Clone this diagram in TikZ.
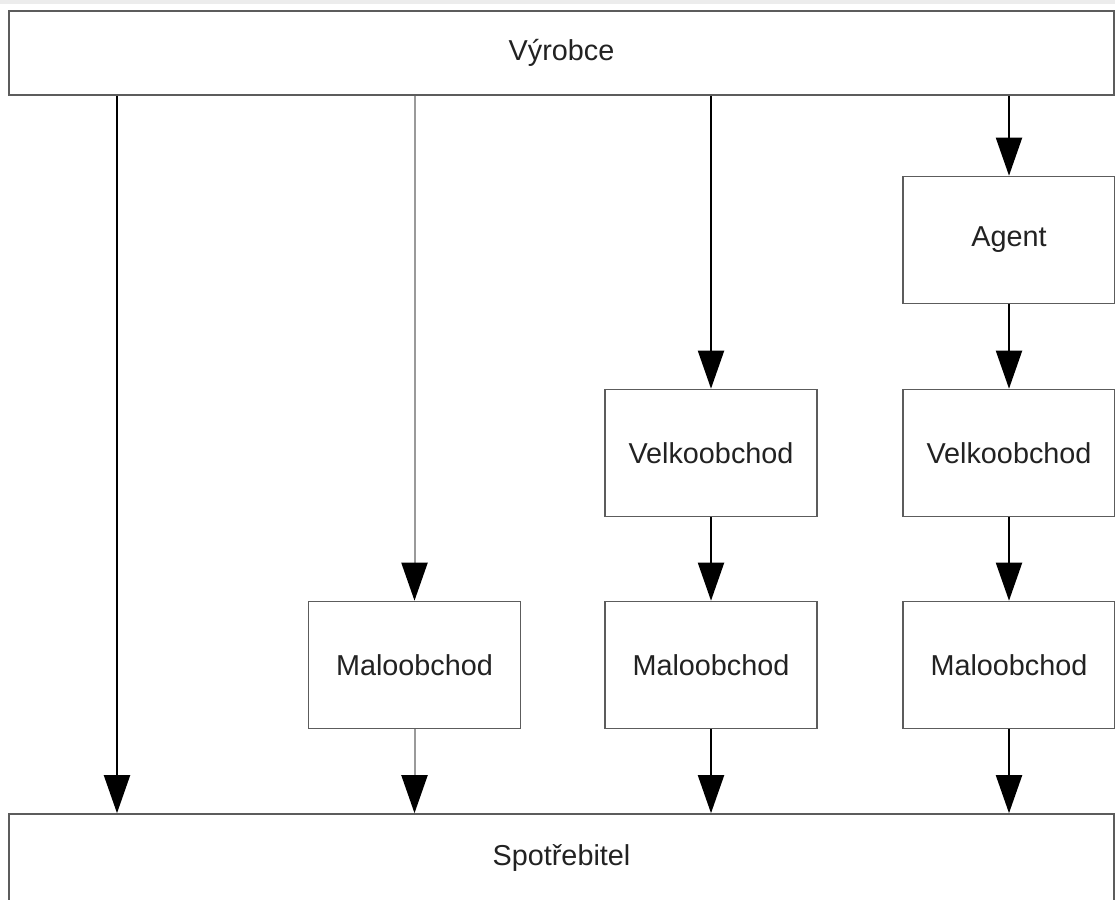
\documentclass[tikz,border=0pt]{standalone}
\usepackage{fontspec}
\setmainfont{Liberation Sans}
\usetikzlibrary{arrows.meta}
\definecolor{edgegray}{HTML}{5C5C5C}
\definecolor{paleline}{HTML}{9A9A9A}
\definecolor{inkdark}{HTML}{222222}
\definecolor{topband}{HTML}{ECECEC}
\begin{document}
\begin{tikzpicture}[x=1pt,y=-1pt,
  box/.style={draw=edgegray,line width=1.6pt,fill=white,rectangle,inner sep=0pt,
    text=inkdark,font=\fontsize{28.8}{34}\selectfont},
  unit/.style={box,minimum width=212pt,minimum height=127pt},
  band/.style={box,minimum width=1105pt},
  flow/.style={draw=black,line width=2pt,-{Triangle[width=26pt,length=38pt,color=black]}},
  paleflow/.style={flow,draw=paleline}]
  \useasboundingbox (0,0) rectangle (1115,899);
  \clip (0,0) rectangle (1115,899);
  \fill[topband] (0,0) rectangle (1115,4);

  % column axes
  \coordinate (c1) at (117,0);
  \coordinate (c2) at (415,0);
  \coordinate (c3) at (711,0);
  \coordinate (c4) at (1009,0);

  % producer and consumer bands
  \node[band,minimum height=84pt] (vyr) at (561.5,53) {Výrobce};
  \node[band,minimum height=88pt] (spo) at (561.5,858) {Spotřebitel};

  % intermediaries
  \node[unit] (agent) at (1009,240) {Agent};
  \node[unit] (velk3) at (711,453) {Velkoobchod};
  \node[unit] (velk4) at (1009,453) {Velkoobchod};
  \node[unit] (malo2) at (414.5,665) {Maloobchod};
  \node[unit] (malo3) at (711,665) {Maloobchod};
  \node[unit] (malo4) at (1009,665) {Maloobchod};

  % direct channel
  \draw[flow] (vyr.south -| c1) -- (spo.north -| c1);
  % one-level channel
  \draw[paleflow] (vyr.south -| malo2) -- (malo2.north);
  \draw[paleflow] (malo2.south) -- (spo.north -| malo2);
  % two-level channel
  \draw[flow] (vyr.south -| velk3) -- (velk3.north);
  \draw[flow] (velk3) -- (malo3);
  \draw[flow] (malo3.south) -- (spo.north -| malo3);
  % three-level channel
  \draw[flow] (vyr.south -| agent) -- (agent.north);
  \draw[flow] (agent) -- (velk4);
  \draw[flow] (velk4) -- (malo4);
  \draw[flow] (malo4.south) -- (spo.north -| malo4);
\end{tikzpicture}
\end{document}
